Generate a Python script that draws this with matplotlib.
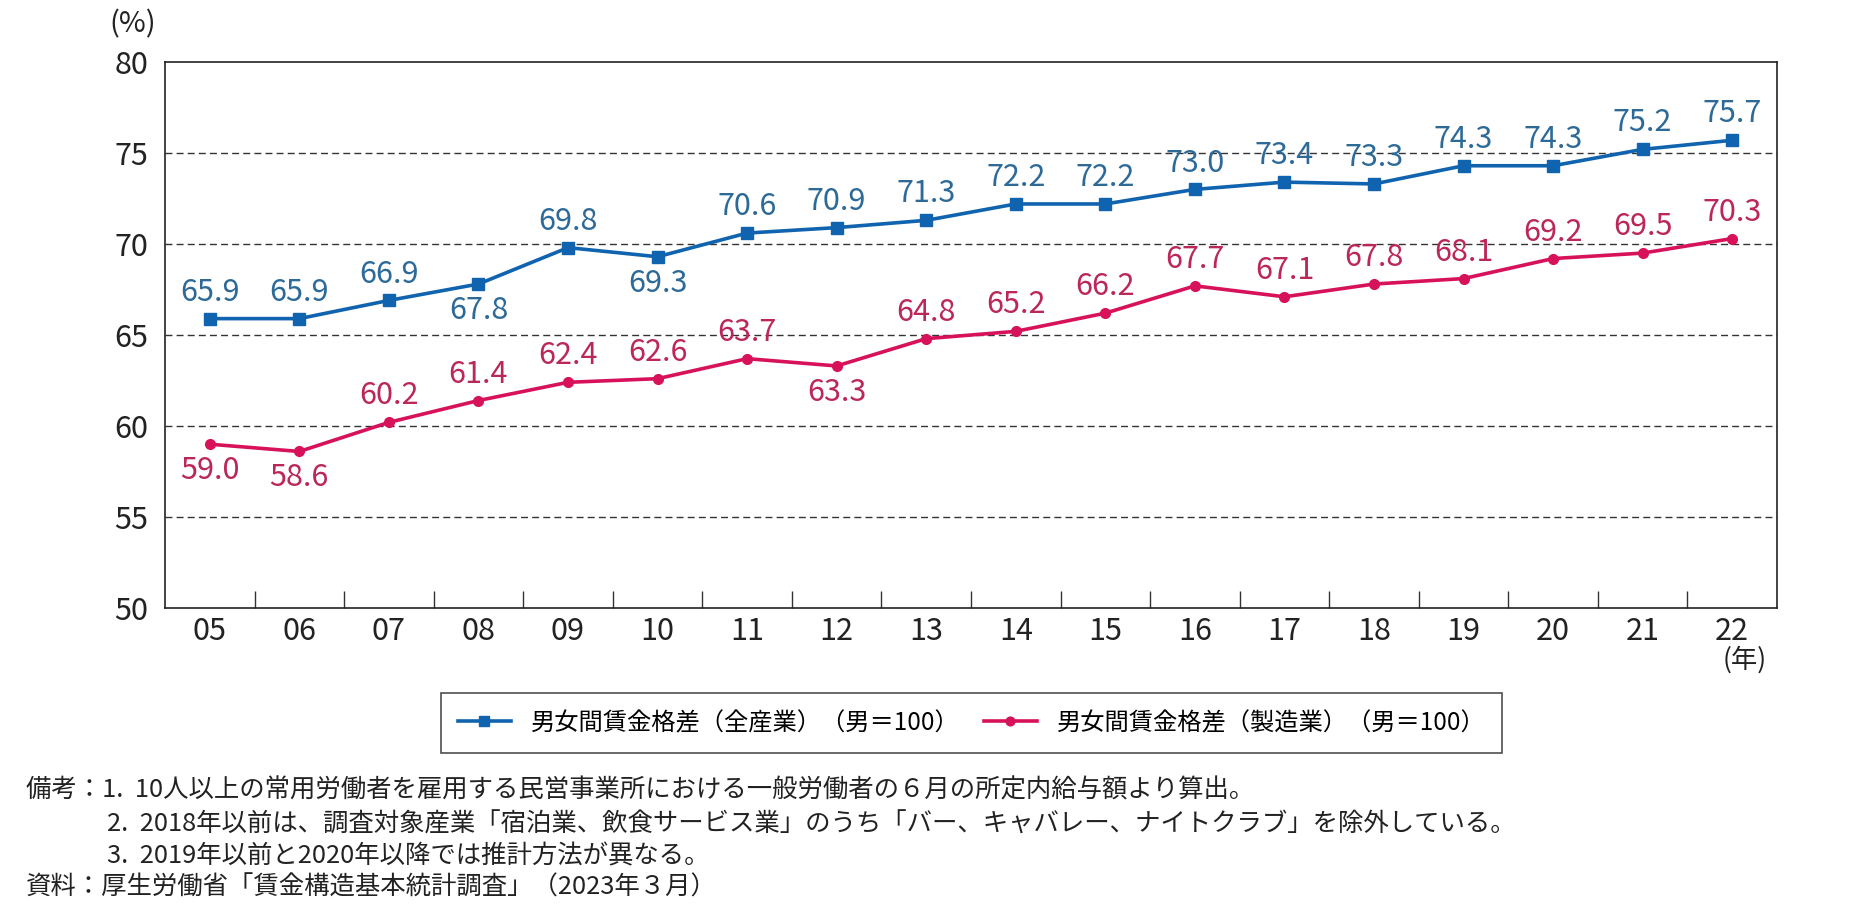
import numpy as np
import matplotlib
matplotlib.use("Agg")
import matplotlib.pyplot as plt
from matplotlib.ticker import FixedLocator

plt.rcParams["font.family"] = ["Noto Sans CJK JP", "DejaVu Sans"]

years = ["05", "06", "07", "08", "09", "10", "11", "12", "13",
         "14", "15", "16", "17", "18", "19", "20", "21", "22"]
all_ind = [65.9, 65.9, 66.9, 67.8, 69.8, 69.3, 70.6, 70.9, 71.3,
           72.2, 72.2, 73.0, 73.4, 73.3, 74.3, 74.3, 75.2, 75.7]
manuf = [59.0, 58.6, 60.2, 61.4, 62.4, 62.6, 63.7, 63.3, 64.8,
         65.2, 66.2, 67.7, 67.1, 67.8, 68.1, 69.2, 69.5, 70.3]
# label below the point for these years
all_below = ["08", "10"]
manuf_below = ["05", "06", "12"]

names = ["男女間賃金格差（全産業）（男＝100）", "男女間賃金格差（製造業）（男＝100）"]
notes = [
    ("備考：1.  10人以上の常用労働者を雇用する民営事業所における一般労働者の６月の所定内給与額より算出。", 26),
    ("2.  2018年以前は、調査対象産業「宿泊業、飲食サービス業」のうち「バー、キャバレー、ナイトクラブ」を除外している。", 107),
    ("3.  2019年以前と2020年以降では推計方法が異なる。", 107),
    ("資料：厚生労働省「賃金構造基本統計調査」（2023年３月）", 26),
]

blue, blue_txt = "#1063ae", "#2d6a98"
pink, pink_txt = "#d7125b", "#bb275b"
txt = "#222222"

fig = plt.figure(figsize=(18.7, 9.22), dpi=100)
ax = fig.add_axes([165 / 1870, 1 - 608 / 922, (1777 - 165) / 1870, (608 - 62) / 922])

x = np.arange(len(years))
l1, = ax.plot(x, all_ind, color=blue, lw=2.6, marker="s", ms=8.5, label=names[0])
l2, = ax.plot(x, manuf, color=pink, lw=2.6, marker="o", ms=7, label=names[1])

for xi, yr, v in zip(x, years, all_ind):
    dy = -19 if yr in all_below else 19
    ax.annotate(f"{v:.1f}", (xi, v), xytext=(0, dy), textcoords="offset points",
                ha="center", va="center", fontsize=22, color=blue_txt)
for xi, yr, v in zip(x, years, manuf):
    dy = -19 if yr in manuf_below else 19
    ax.annotate(f"{v:.1f}", (xi, v), xytext=(0, dy), textcoords="offset points",
                ha="center", va="center", fontsize=22, color=pink_txt)

ax.set_xlim(-0.5, len(years) - 0.5)
ax.set_ylim(50, 80)
ax.set_yticks(np.arange(50, 81, 5))
ax.set_xticks(x)
ax.set_xticklabels(years)
ax.xaxis.set_minor_locator(FixedLocator(x[:-1] + 0.5))
ax.tick_params(axis="x", which="major", length=0, pad=6, labelsize=22, labelcolor=txt)
ax.tick_params(axis="x", which="minor", direction="in", length=12, width=1, color="#333333")
ax.tick_params(axis="y", length=0, pad=12, labelsize=22, labelcolor=txt)
for yv in range(55, 80, 5):
    ax.axhline(yv, color="#333333", lw=1, ls=(0, (5, 3)), zorder=0)
for s in ax.spines.values():
    s.set_color("#222222")
    s.set_linewidth(1.2)

fig.text(133 / 1870, 1 - 24 / 922, "(%)", ha="center", va="center", fontsize=21, color=txt)
fig.text(1745 / 1870, 1 - 660 / 922, "(年)", ha="center", va="center", fontsize=19, color=txt)

fig.legend(handles=[l1, l2], loc="center", bbox_to_anchor=(0.5195, 1 - 723 / 922),
           ncol=2, fontsize=17.5, frameon=True, fancybox=False, edgecolor="#222222",
           handlelength=2.2, columnspacing=1.0, borderpad=0.7, markerscale=0.9)
fig.legends[0].get_frame().set_linewidth(1.2)

for (t, xp), yp in zip(notes, [791, 824, 856, 888]):
    fig.text(xp / 1870, 1 - yp / 922, t, ha="left", va="center", fontsize=18.3, color=txt)

fig.savefig("out.png", dpi=100)
